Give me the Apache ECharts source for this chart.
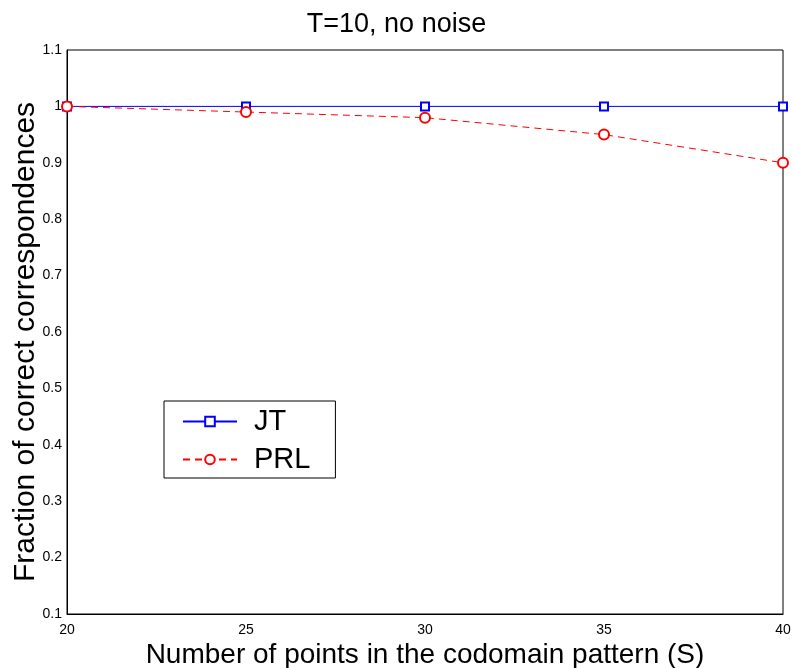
<!DOCTYPE html>
<html><head><meta charset="utf-8">
<script src="https://cdn.jsdelivr.net/npm/echarts@6/dist/echarts.min.js"></script>
<style>html,body{margin:0;padding:0;background:#fff}#c{width:793px;height:668px}</style>
</head><body><div id="c"></div>
<script>
const xValues = [20, 25, 30, 35, 40];
const jtValues = [1.0, 1.0, 1.0, 1.0, 1.0];
const prlValues = [1.0, 0.99, 0.98, 0.95, 0.90];
const seriesNames = ['JT', 'PRL'];
const titleText = 'T=10, no noise';
const xName = 'Number of points in the codomain pattern (S)';
const yName = 'Fraction of correct correspondences';

const chart = echarts.init(document.getElementById('c'));
const font = 'Liberation Sans, Arial, sans-serif';
chart.setOption({
  animation: false,
  backgroundColor: '#fff',
  title: { text: titleText, left: 'center', top: 6, textStyle: { fontFamily: font, fontSize: 27, fontWeight: 'normal', color: '#000' } },
  grid: { left: 67, right: 10, top: 50, bottom: 54, containLabel: false, outerBoundsMode: 'none',
    show: true, borderColor: '#000', borderWidth: 1, backgroundColor: '#fff' },
  legend: {
    orient: 'vertical', left: 164, top: 401,
    padding: [6, 25, 4, 18],
    borderColor: '#000', borderWidth: 1, backgroundColor: '#fff',
    itemWidth: 54, itemHeight: 12, itemGap: 9,
    textStyle: { fontFamily: font, fontSize: 29, color: '#000', padding: [0, 0, 0, 12] },
    data: seriesNames
  },
  xAxis: {
    type: 'value', min: 20, max: 40, interval: 5,
    name: xName, nameLocation: 'middle', nameGap: 27, nameMoveOverlap: false,
    nameTextStyle: { fontFamily: font, fontSize: 28, color: '#000' },
    axisLine: { show: true, lineStyle: { color: '#000' } },
    axisTick: { show: false },
    splitLine: { show: false },
    axisLabel: { fontFamily: font, fontSize: 14, color: '#000', margin: 9 }
  },
  yAxis: {
    type: 'value', min: 0.1, max: 1.1, interval: 0.1,
    name: yName, nameLocation: 'middle', nameGap: 26, nameMoveOverlap: false,
    nameTextStyle: { fontFamily: font, fontSize: 30, color: '#000', padding: [0, 20, 0, 0] },
    axisLine: { show: true, lineStyle: { color: '#000' } },
    axisTick: { show: false },
    splitLine: { show: false },
    axisLabel: { fontFamily: font, fontSize: 14, color: '#000', margin: 5,
      formatter: v => { const r = Math.round(v * 10) / 10; return r === 1 ? '1' : r.toFixed(1); } }
  },
  series: [
    { name: seriesNames[0], type: 'line', data: xValues.map((x, i) => [x, jtValues[i]]),
      symbol: 'emptyRect', symbolSize: 8, showAllSymbol: true,
      lineStyle: { color: '#0000ff', width: 1 }, itemStyle: { color: '#0000ff', borderWidth: 1 } },
    { name: seriesNames[1], type: 'line', data: xValues.map((x, i) => [x, prlValues[i]]),
      symbol: 'emptyCircle', symbolSize: 10, showAllSymbol: true,
      lineStyle: { color: '#ff0000', width: 1, type: [7, 5] }, itemStyle: { color: '#ff0000', borderWidth: 1 } }
  ]
});
</script></body></html>
